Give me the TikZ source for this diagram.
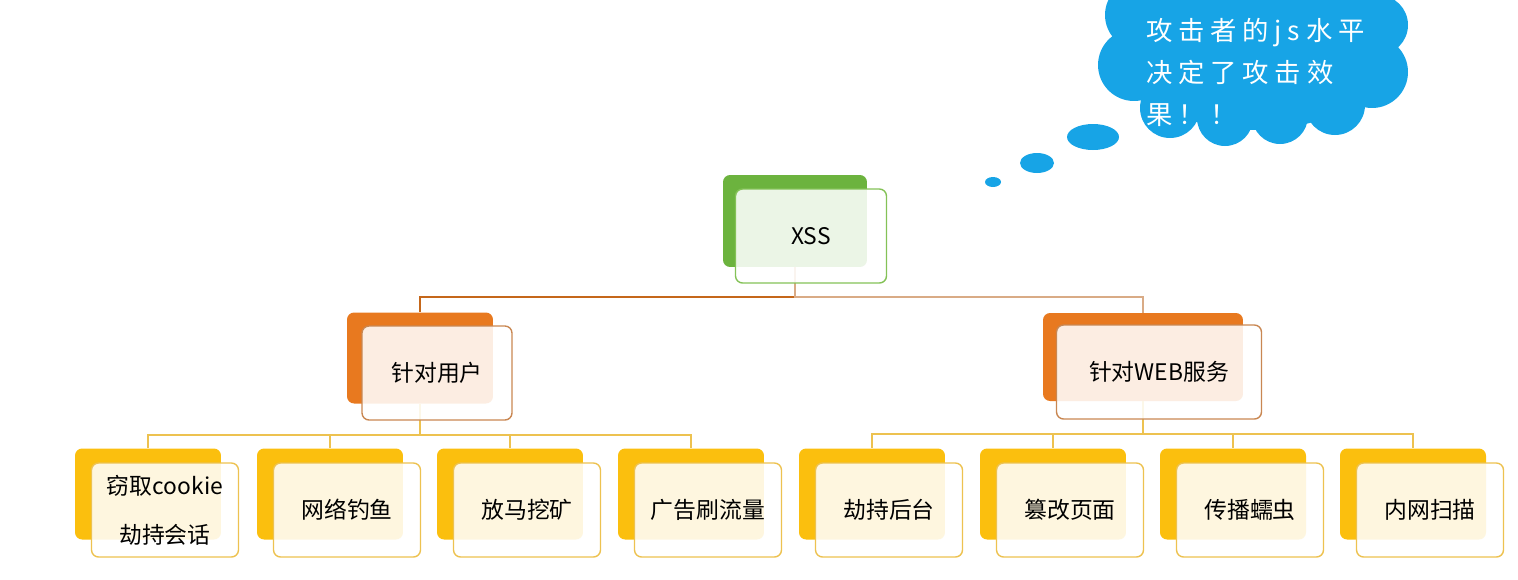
\documentclass[tikz,border=0pt]{standalone}
\usepackage{fontspec}
\setmainfont{Noto Sans CJK SC}
\newfontfamily\cloudfont[LetterSpace=22]{Noto Sans CJK SC}
\usetikzlibrary{positioning,shapes.geometric}
\definecolor{xssgreen}{HTML}{6CB33E}
\definecolor{xssline}{HTML}{84C257}
\definecolor{midorange}{HTML}{E8791F}
\definecolor{midline}{HTML}{C98752}
\definecolor{leafyellow}{HTML}{FBBF0E}
\definecolor{leafline}{HTML}{EDC250}
\definecolor{cloudblue}{HTML}{17A4E6}
\tikzset{
	back/.style={rectangle, rounded corners=4pt, inner sep=0pt, minimum width=2.92cm, minimum height=1.82cm}, % the coloured card lying behind
	front/.style={rectangle, rounded corners=4pt, draw, line width=0.8pt, fill=white, fill opacity=0.87, text opacity=1, inner sep=0pt, minimum width=2.94cm, minimum height=1.88cm, align=center, font=\fontsize{13}{28}\selectfont}, % the white card with the text
	bubble/.style={ellipse, fill=cloudblue, inner sep=0pt}
}
\begin{document}
\begin{tikzpicture}[x=0.02cm, y=-0.02cm]
	\useasboundingbox (0,0) rectangle (1518,579);
	\tikzset{top edge/.style={line width=1pt}}
	\tikzset{leaf edge/.style={line width=1pt, leafline}}
	% cards behind
	\node[back, fill=xssgreen, minimum width=2.88cm, minimum height=1.84cm] (xssb) at (795,221) {};
	\node[back, fill=midorange] (userb) at (420,358) {};
	\node[back, fill=midorange, minimum width=4cm, minimum height=1.76cm] (webb) at (1143,357) {};
	\node[back, fill=leafyellow] (u1b) at (148,494) {};
	\node[back, fill=leafyellow] (u2b) at (330,494) {};
	\node[back, fill=leafyellow] (u3b) at (510,494) {};
	\node[back, fill=leafyellow] (u4b) at (691,494) {};
	\node[back, fill=leafyellow] (w1b) at (872,494) {};
	\node[back, fill=leafyellow] (w2b) at (1053,494) {};
	\node[back, fill=leafyellow] (w3b) at (1233,494) {};
	\node[back, fill=leafyellow] (w4b) at (1413,494) {};
	% edges
	\draw[top edge, draw=midorange!85!black] (xssb.south) -- ++(0,30) -| (userb.north);
	\draw[top edge, draw=midline!70!white] (xssb.south) -- ++(0,30) -| (webb.north);
	\draw[leaf edge] (userb.south) -- ++(0,31) -| (u1b.north);
	\draw[leaf edge] (userb.south) -- ++(0,31) -| (u2b.north);
	\draw[leaf edge] (userb.south) -- ++(0,31) -| (u3b.north);
	\draw[leaf edge] (userb.south) -- ++(0,31) -| (u4b.north);
	\draw[leaf edge] (webb.south) -- ++(0,33) -| (w1b.north);
	\draw[leaf edge] (webb.south) -- ++(0,33) -| (w2b.north);
	\draw[leaf edge] (webb.south) -- ++(0,33) -| (w3b.north);
	\draw[leaf edge] (webb.south) -- ++(0,33) -| (w4b.north);
	% cards in front
	\node[front, draw=xssline, minimum width=3.02cm] (xss) at ([shift={(16,15)}]xssb) {XSS};
	\node[front, draw=midline, minimum width=3cm] (user) at ([shift={(17,15)}]userb) {针对用户};
	\node[front, draw=midline, minimum width=4.1cm] (web) at ([shift={(16,15)}]webb) {针对WEB服务};
	\node[front, draw=leafline] (u1) at ([shift={(17,16)}]u1b) {窃取cookie\\劫持会话};
	\node[front, draw=leafline] (u2) at ([shift={(17,16)}]u2b) {网络钓鱼};
	\node[front, draw=leafline] (u3) at ([shift={(17,16)}]u3b) {放马挖矿};
	\node[front, draw=leafline] (u4) at ([shift={(17,16)}]u4b) {广告刷流量};
	\node[front, draw=leafline] (w1) at ([shift={(17,16)}]w1b) {劫持后台};
	\node[front, draw=leafline] (w2) at ([shift={(17,16)}]w2b) {篡改页面};
	\node[front, draw=leafline] (w3) at ([shift={(17,16)}]w3b) {传播蠕虫};
	\node[front, draw=leafline] (w4) at ([shift={(17,16)}]w4b) {内网扫描};
	% thought cloud
	\fill[cloudblue] (1255,60) ellipse [x radius=2.5cm, y radius=1.4cm]
		(1140,15) circle [radius=0.7cm] (1185,5) circle [radius=0.8cm]
		(1134,65) circle [radius=0.72cm]
		(1170,108) circle [radius=0.6cm] (1225,118) circle [radius=0.56cm]
		(1280,116) circle [radius=0.56cm] (1335,105) circle [radius=0.6cm]
		(1372,72) circle [radius=0.72cm] (1378,25) circle [radius=0.6cm]
		(1330,0) circle [radius=0.8cm] (1250,0) circle [radius=0.9cm];
	\node[text=white, align=left, anchor=north west, inner sep=0pt, font=\cloudfont\fontsize{15}{24}\selectfont] (msg) at (1146,18) {攻击者的js水平\\决定了攻击效\\果！！};
	\node[bubble, minimum width=1.04cm, minimum height=0.52cm] (b1) at (1093,137) {};
	\node[bubble, minimum width=0.68cm, minimum height=0.4cm] (b2) at (1037,163) {};
	\node[bubble, minimum width=0.32cm, minimum height=0.2cm] (b3) at (993,182) {};
\end{tikzpicture}
\end{document}
